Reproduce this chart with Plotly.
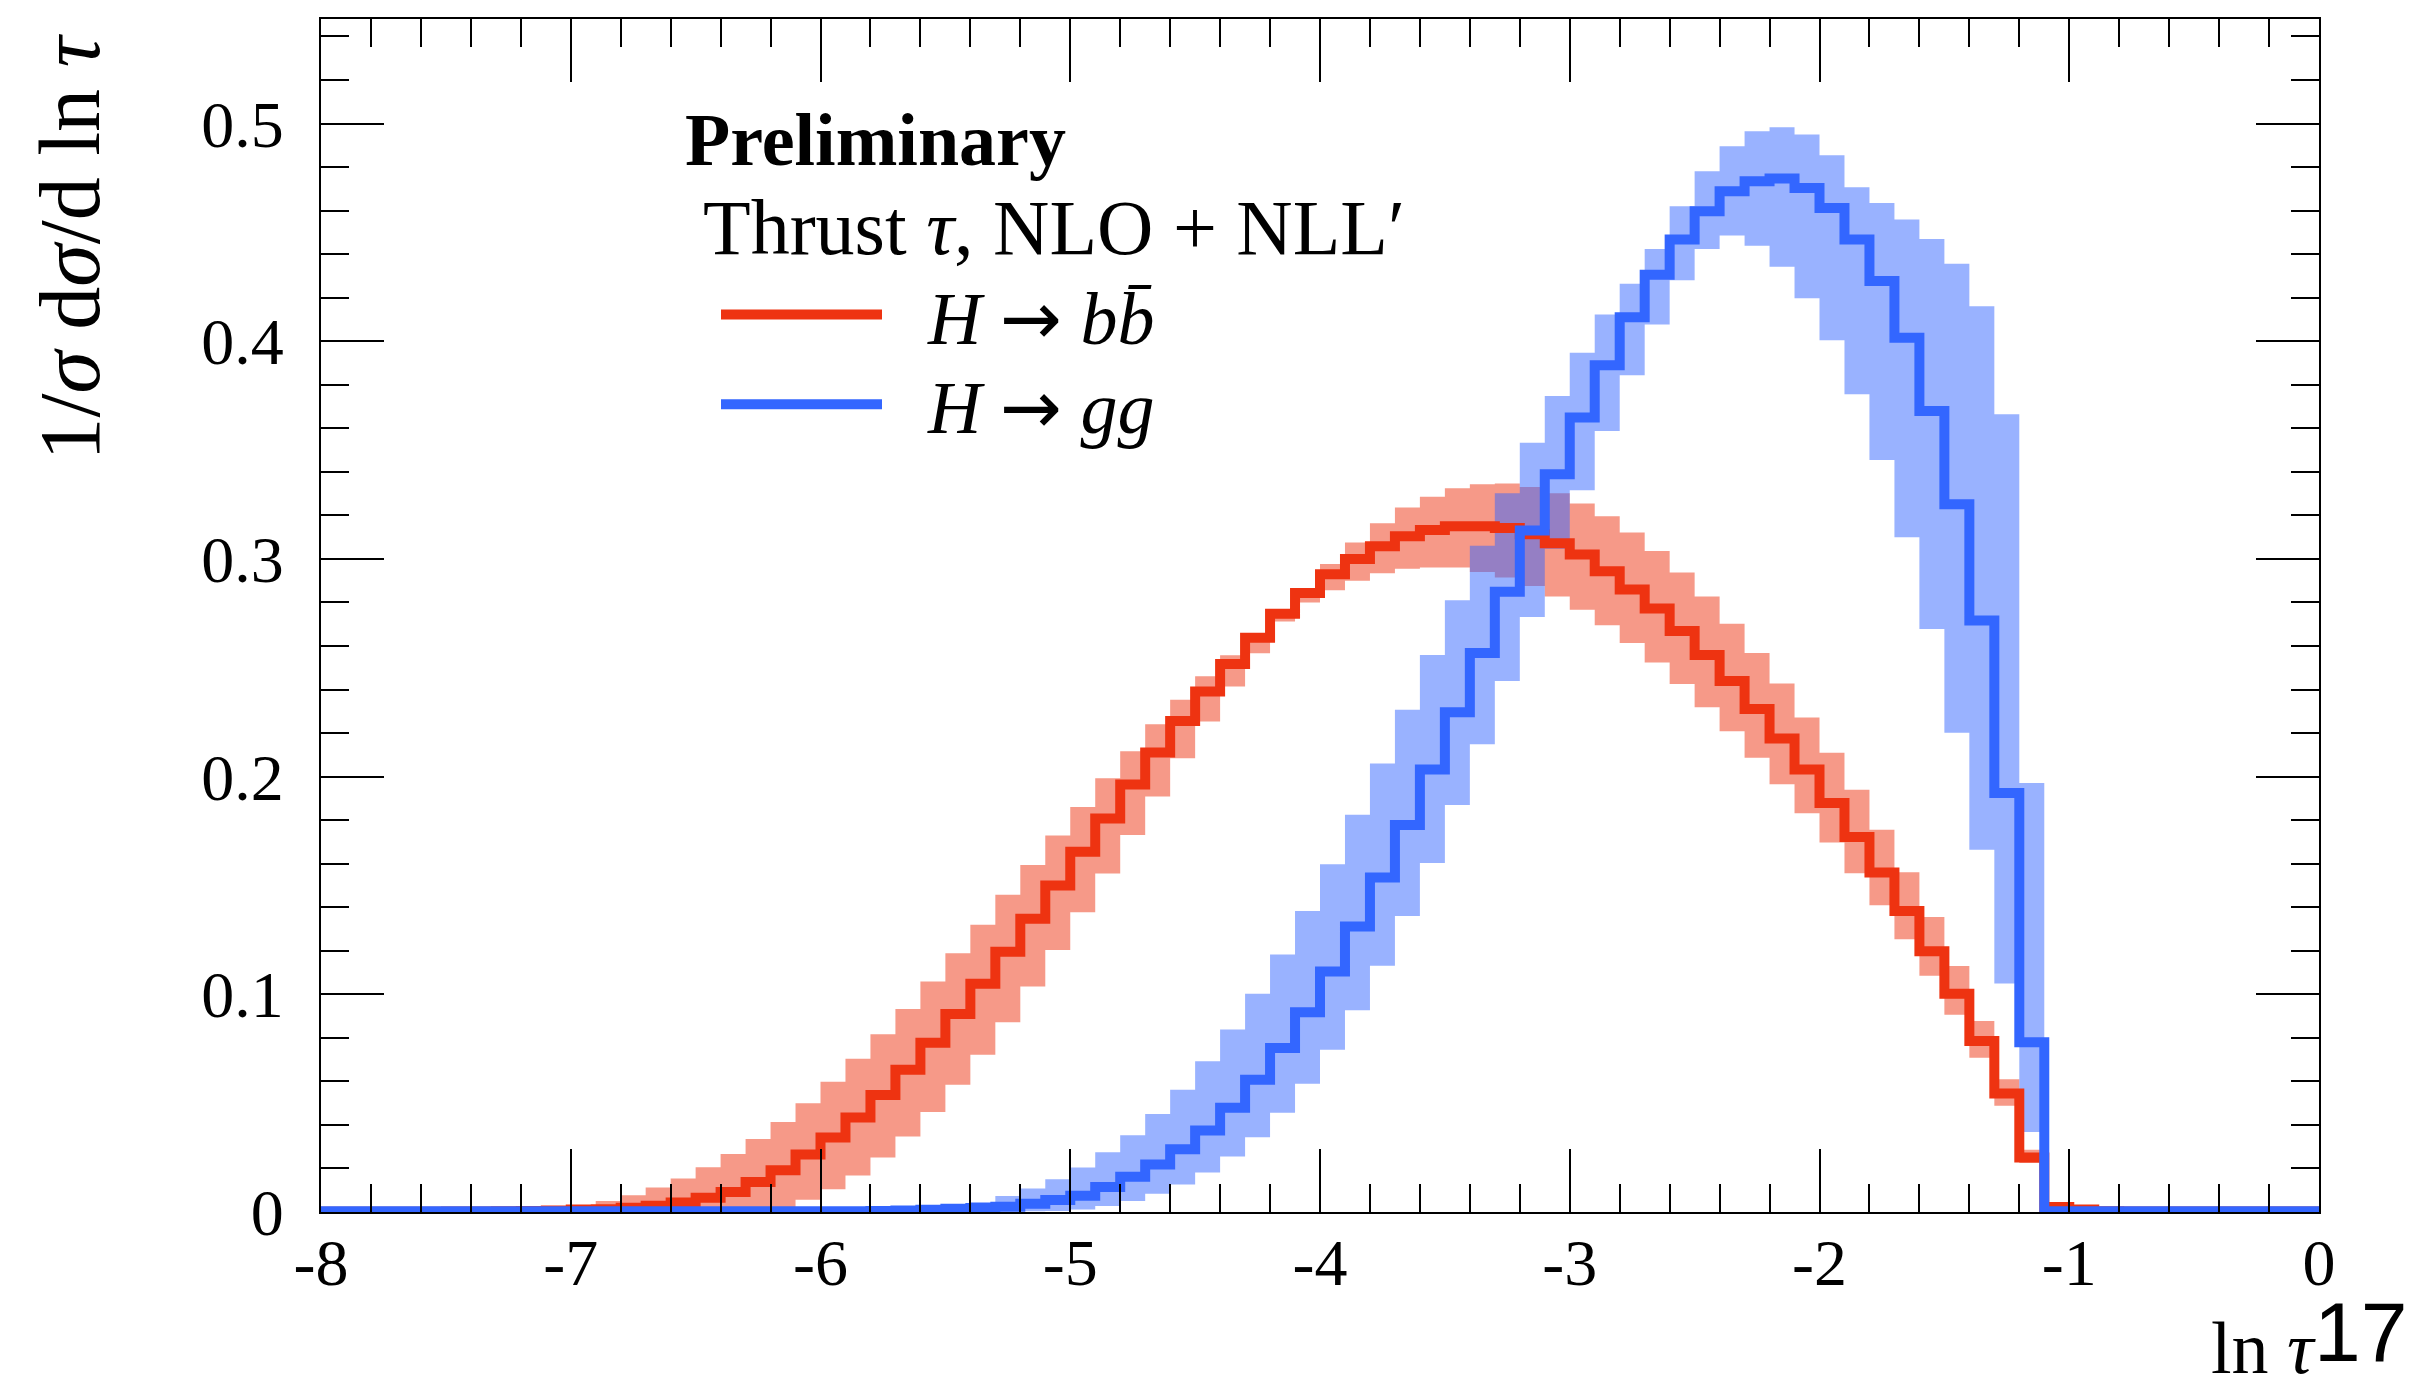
import plotly.graph_objects as go

# ---------------- data (bins of width 0.1 from -8 to 0) ----------------
bin_edges = [round(-8.0 + 0.1 * i, 1) for i in range(81)]

# H -> b bbar : central, lower, upper
bb_central = [
    0.0001, 0.0001, 0.0001, 0.0001, 0.0001,
    0.0002, 0.0002, 0.0003, 0.0005, 0.0007,
    0.0011, 0.0013, 0.0019, 0.0029, 0.0044,
    0.0066, 0.0092, 0.0138, 0.0192, 0.0264,
    0.0342, 0.0434, 0.0538, 0.0653, 0.0778,
    0.0909, 0.1048, 0.1195, 0.1347, 0.1500,
    0.1655, 0.1808, 0.1964, 0.2111, 0.2255,
    0.2391, 0.2517, 0.2638, 0.2748, 0.2843,
    0.2930, 0.3000, 0.3058, 0.3104, 0.3133,
    0.3150, 0.3150, 0.3142, 0.3113, 0.3072,
    0.3020, 0.2943, 0.2860, 0.2772, 0.2669,
    0.2559, 0.2439, 0.2311, 0.2175, 0.2033,
    0.1879, 0.1723, 0.1559, 0.1383, 0.1198,
    0.1003, 0.0786, 0.0544, 0.0250, 0.0023,
    0.0011, 0.0004, 0.0002, 0.0002, 0.0002,
    0.0002, 0.0002, 0.0002, 0.0002, 0.0002,
]
bb_lower = [
    0.0000, 0.0000, 0.0000, 0.0000, 0.0000,
    0.0000, 0.0000, 0.0000, 0.0000, 0.0000,
    0.0000, 0.0001, 0.0002, 0.0003, 0.0004,
    0.0005, 0.0008, 0.0015, 0.0022, 0.0056,
    0.0104, 0.0168, 0.0250, 0.0347, 0.0459,
    0.0585, 0.0722, 0.0872, 0.1036, 0.1204,
    0.1377, 0.1555, 0.1732, 0.1909, 0.2084,
    0.2253, 0.2414, 0.2567, 0.2712, 0.2800,
    0.2856, 0.2900, 0.2934, 0.2955, 0.2960,
    0.2961, 0.2940, 0.2915, 0.2876, 0.2827,
    0.2766, 0.2695, 0.2614, 0.2524, 0.2425,
    0.2318, 0.2208, 0.2087, 0.1965, 0.1832,
    0.1697, 0.1556, 0.1409, 0.1253, 0.1085,
    0.0906, 0.0709, 0.0488, 0.0225, 0.0008,
    0.0005, 0.0001, 0.0001, 0.0001, 0.0001,
    0.0001, 0.0001, 0.0001, 0.0001, 0.0001,
]
bb_upper = [
    0.0002, 0.0002, 0.0002, 0.0002, 0.0002,
    0.0002, 0.0002, 0.0005, 0.0008, 0.0012,
    0.0027, 0.0050, 0.0077, 0.0112, 0.0154,
    0.0205, 0.0266, 0.0335, 0.0413, 0.0500,
    0.0598, 0.0704, 0.0816, 0.0933, 0.1059,
    0.1189, 0.1320, 0.1457, 0.1594, 0.1729,
    0.1860, 0.1992, 0.2117, 0.2241, 0.2353,
    0.2461, 0.2557, 0.2660, 0.2765, 0.2860,
    0.2976, 0.3075, 0.3164, 0.3236, 0.3286,
    0.3324, 0.3343, 0.3346, 0.3330, 0.3301,
    0.3255, 0.3196, 0.3121, 0.3036, 0.2937,
    0.2827, 0.2702, 0.2568, 0.2428, 0.2272,
    0.2109, 0.1940, 0.1756, 0.1561, 0.1355,
    0.1130, 0.0877, 0.0610, 0.0286, 0.0032,
    0.0013, 0.0005, 0.0002, 0.0002, 0.0002,
    0.0002, 0.0002, 0.0002, 0.0002, 0.0002,
]

# H -> g g : central, lower, upper
gg_central = [
    0.0003, 0.0003, 0.0003, 0.0003, 0.0003,
    0.0003, 0.0003, 0.0003, 0.0003, 0.0003,
    0.0003, 0.0003, 0.0003, 0.0003, 0.0003,
    0.0003, 0.0003, 0.0003, 0.0003, 0.0003,
    0.0003, 0.0004, 0.0005, 0.0007, 0.0010,
    0.0015, 0.0018, 0.0024, 0.0038, 0.0055,
    0.0075, 0.0115, 0.0162, 0.0218, 0.0288,
    0.0374, 0.0479, 0.0608, 0.0753, 0.0917,
    0.1105, 0.1312, 0.1536, 0.1778, 0.2033,
    0.2296, 0.2568, 0.2849, 0.3130, 0.3389,
    0.3650, 0.3890, 0.4110, 0.4305, 0.4467,
    0.4597, 0.4689, 0.4735, 0.4747, 0.4704,
    0.4612, 0.4467, 0.4276, 0.4016, 0.3679,
    0.3251, 0.2717, 0.1925, 0.0780, 0.0003,
    0.0003, 0.0003, 0.0003, 0.0003, 0.0003,
    0.0003, 0.0003, 0.0003, 0.0003, 0.0003,
]
gg_lower = [
    0.0002, 0.0002, 0.0002, 0.0002, 0.0002,
    0.0002, 0.0002, 0.0002, 0.0002, 0.0002,
    0.0002, 0.0002, 0.0002, 0.0002, 0.0002,
    0.0002, 0.0002, 0.0002, 0.0002, 0.0002,
    0.0002, 0.0002, 0.0002, 0.0002, 0.0002,
    0.0002, 0.0002, 0.0002, 0.0003, 0.0005,
    0.0011, 0.0028, 0.0051, 0.0084, 0.0126,
    0.0182, 0.0255, 0.0343, 0.0456, 0.0589,
    0.0745, 0.0927, 0.1131, 0.1360, 0.1603,
    0.1869, 0.2149, 0.2439, 0.2733, 0.3047,
    0.3315, 0.3587, 0.3844, 0.4077, 0.4280,
    0.4424, 0.4485, 0.4438, 0.4342, 0.4197,
    0.4004, 0.3756, 0.3454, 0.3100, 0.2678,
    0.2201, 0.1664, 0.1050, 0.0368, 0.0002,
    0.0002, 0.0002, 0.0002, 0.0002, 0.0002,
    0.0002, 0.0002, 0.0002, 0.0002, 0.0002,
]
gg_upper = [
    0.0004, 0.0004, 0.0004, 0.0004, 0.0004,
    0.0004, 0.0004, 0.0004, 0.0004, 0.0004,
    0.0004, 0.0004, 0.0004, 0.0004, 0.0004,
    0.0004, 0.0004, 0.0004, 0.0004, 0.0004,
    0.0004, 0.0006, 0.0008, 0.0012, 0.0018,
    0.0028, 0.0046, 0.0074, 0.0108, 0.0151,
    0.0204, 0.0274, 0.0352, 0.0450, 0.0562,
    0.0692, 0.0838, 0.1002, 0.1183, 0.1383,
    0.1597, 0.1825, 0.2060, 0.2307, 0.2558,
    0.2810, 0.3060, 0.3301, 0.3534, 0.3748,
    0.3947, 0.4123, 0.4264, 0.4424, 0.4620,
    0.4781, 0.4895, 0.4964, 0.4983, 0.4949,
    0.4854, 0.4707, 0.4635, 0.4559, 0.4469,
    0.4356, 0.4160, 0.3664, 0.1971, 0.0004,
    0.0004, 0.0004, 0.0004, 0.0004, 0.0004,
    0.0004, 0.0004, 0.0004, 0.0004, 0.0004,
]

x_tickvals = [-8, -7, -6, -5, -4, -3, -2, -1, 0]
x_ticktext = ["-8", "-7", "-6", "-5", "-4", "-3", "-2", "-1", "0"]
y_tickvals = [0, 0.1, 0.2, 0.3, 0.4, 0.5]
y_ticktext = ["0", "0.1", "0.2", "0.3", "0.4", "0.5"]

# ---------------- styling ----------------
RED = "#EE3311"
BLUE = "#3366FF"
RED_BAND = "rgba(238,51,17,0.5)"
BLUE_BAND = "rgba(51,102,255,0.5)"
FONT = "Liberation Serif"
ARROW = "<span style='font-family:DejaVu Sans'>→</span>"

# the page body has an 8 px margin, so the figure is drawn 16 px smaller
OFF = 8
W, H = 2429 - 2 * OFF, 1384 - 2 * OFF
ML, MR, MT, MB = 313, 102, 9, 164


def steps(vals):
    return list(vals) + [vals[-1]]


fig = go.Figure()

# bands: red first, blue on top (overlap appears purple)
for lo, hi, col in [(bb_lower, bb_upper, RED_BAND), (gg_lower, gg_upper, BLUE_BAND)]:
    fig.add_trace(go.Scatter(x=bin_edges, y=steps(lo), mode="lines",
                             line=dict(width=0, shape="hv"), hoverinfo="skip",
                             showlegend=False))
    fig.add_trace(go.Scatter(x=bin_edges, y=steps(hi), mode="lines",
                             line=dict(width=0, shape="hv"), fill="tonexty",
                             fillcolor=col, hoverinfo="skip", showlegend=False))

# central lines
fig.add_trace(go.Scatter(x=bin_edges, y=steps(bb_central), mode="lines",
                         line=dict(color=RED, width=10, shape="hv"),
                         name="H → bb̄", showlegend=False))
fig.add_trace(go.Scatter(x=bin_edges, y=steps(gg_central), mode="lines",
                         line=dict(color=BLUE, width=10, shape="hv"),
                         name="H → gg", showlegend=False))

axis_common = dict(
    showline=True, linecolor="black", linewidth=2, mirror="ticks",
    ticks="inside", tickcolor="black", tickwidth=2, ticklen=63,
    showgrid=False, zeroline=False,
    tickfont=dict(family=FONT, size=66, color="black"),
)

fig.update_xaxes(range=[-8, 0], tickvals=x_tickvals, ticktext=x_ticktext,
                 minor=dict(dtick=0.2, ticks="inside", ticklen=28, tickwidth=2,
                            tickcolor="black", showgrid=False),
                 ticklabelstandoff=-8, **axis_common)
fig.update_yaxes(range=[0, 0.548], tickvals=y_tickvals, ticktext=y_ticktext,
                 minor=dict(dtick=0.02, ticks="inside", ticklen=28, tickwidth=2,
                            tickcolor="black", showgrid=False),
                 ticklabelstandoff=22, **axis_common)

PW = W - ML - MR
PH = H - MT - MB


def px(xp):
    """page pixel x -> paper coordinate"""
    return (xp - OFF - ML) / PW


def py(yp):
    """page pixel y -> paper coordinate"""
    return (H - MB - (yp - OFF)) / PH


annotations = [
    dict(text="<b>Preliminary</b>", x=px(683), y=py(138), xanchor="left", yanchor="middle",
         font=dict(family=FONT, size=74, color="black")),
    dict(text="Thrust <i>τ</i>, NLO + NLL′", x=px(701), y=py(226), xanchor="left", yanchor="middle",
         font=dict(family=FONT, size=78, color="black")),
    dict(text="<i>H</i> " + ARROW + " <i>b</i><i>b̄</i>", x=px(925), y=py(317), xanchor="left",
         yanchor="middle", font=dict(family=FONT, size=74, color="black")),
    dict(text="<i>H</i> " + ARROW + " <i>gg</i>", x=px(925), y=py(406), xanchor="left",
         yanchor="middle", font=dict(family=FONT, size=74, color="black")),
    dict(text="1/<i>σ</i> d<i>σ</i>/d ln <i>τ</i>", x=px(70), y=py(30), xanchor="center", yanchor="top",
         textangle=-90, font=dict(family=FONT, size=86, color="black")),
    dict(text="ln <i>τ</i>", x=px(2318), y=py(1348), xanchor="right", yanchor="middle",
         font=dict(family=FONT, size=74, color="black")),
    dict(text="17", x=px(2312), y=py(1332), xanchor="left", yanchor="middle",
         font=dict(family="Liberation Sans", size=84, color="black")),
]
for a in annotations:
    a.update(xref="paper", yref="paper", showarrow=False)

shapes = [
    dict(type="line", xref="paper", yref="paper", x0=px(721), x1=px(882),
         y0=py(313), y1=py(313), line=dict(color=RED, width=10)),
    dict(type="line", xref="paper", yref="paper", x0=px(721), x1=px(882),
         y0=py(403), y1=py(403), line=dict(color=BLUE, width=10)),
]

fig.update_layout(
    width=W, height=H, autosize=False,
    margin=dict(l=ML, r=MR, t=MT, b=MB, pad=0),
    paper_bgcolor="white", plot_bgcolor="white",
    annotations=annotations, shapes=shapes, showlegend=False,
)

fig.write_html("out.html")
